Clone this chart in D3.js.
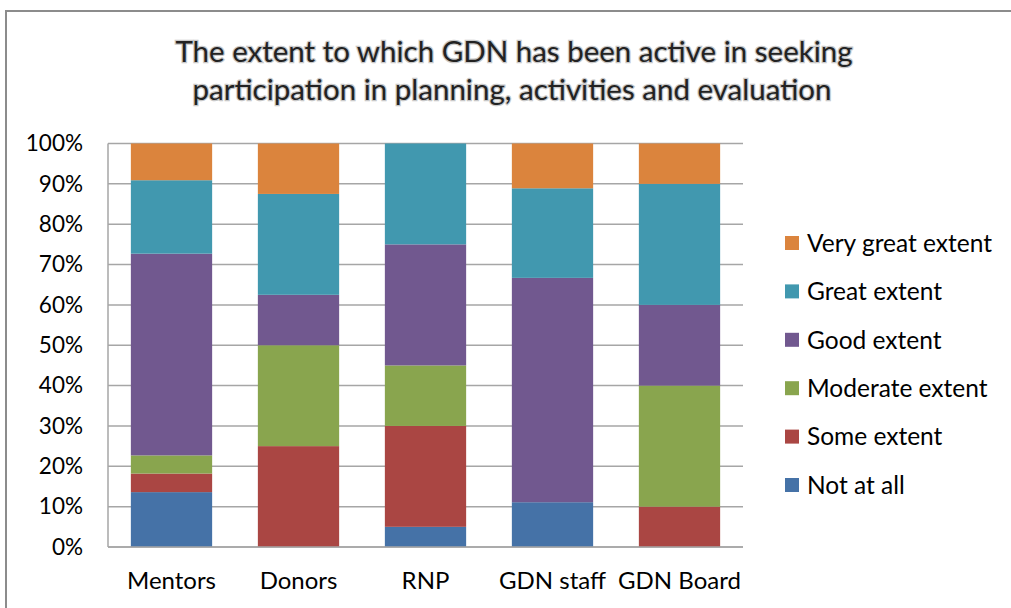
<!DOCTYPE html>
<html>
<head>
<meta charset="utf-8">
<script src="https://cdn.jsdelivr.net/npm/d3@7"></script>
<style>
  body { margin: 0; background: #fff; }
  text { font-family: Lato, "Open Sans", sans-serif; fill: #000; }
</style>
</head>
<body>
<div id="chart"></div>
<script>
/* data */
var groups = ["Mentors", "Donors", "RNP", "GDN staff", "GDN Board"];
var levels = ["Not at all", "Some extent", "Moderate extent", "Good extent", "Great extent", "Very great extent"];
var notAtAll  = [13.6, 0,    5,  11.1, 0];
var some      = [4.6,  25,   25, 0,    10];
var moderate  = [4.5,  25,   15, 0,    30];
var good      = [50,   12.5, 30, 55.6, 20];
var great     = [18.2, 25,   25, 22.2, 30];
var veryGreat = [9.1,  12.5, 0,  11.1, 10];
var yTicks = [0, 10, 20, 30, 40, 50, 60, 70, 80, 90, 100];
var colors = ["#4572A7", "#AA4643", "#89A54E", "#71588F", "#4198AF", "#DB843D"];

var width = 1011, height = 608;
var svg = d3.select("#chart").append("svg").attr("width", width).attr("height", height);

// outer chart border (cropped on right/bottom)
svg.append("rect").attr("x", 6).attr("y", 11).attr("width", width + 10).attr("height", height + 10)
  .attr("fill", "none").attr("stroke", "#8c8c8c").attr("stroke-width", 2);

// title
var title = svg.append("text").attr("x", 514).attr("text-anchor", "middle")
  .style("font-size", "29.5px").style("fill", "#222")
  .attr("stroke", "#c8c8c8").attr("stroke-width", 2.5).attr("paint-order", "stroke");
title.append("tspan").attr("x", 514).attr("y", 62).text("The extent to which GDN has been active in seeking");
title.append("tspan").attr("x", 512).attr("y", 100).text("participation in planning, activities and evaluation");

var plot = {left: 108, right: 743, top: 143.5, bottom: 547};

var x = d3.scaleBand().domain(groups).range([plot.left, plot.right]).paddingInner(0.36).paddingOuter(0.18);
var y = d3.scaleLinear().domain([0, 100]).range([plot.bottom, plot.top]);

// gridlines
svg.append("g").selectAll("line").data(yTicks).enter().append("line")
  .attr("x1", plot.left).attr("x2", plot.right)
  .attr("y1", function(d) { return y(d); }).attr("y2", function(d) { return y(d); })
  .attr("stroke", "#a6a6a6").attr("stroke-width", 1.5);

// axis line
svg.append("line").attr("x1", plot.left).attr("x2", plot.left).attr("y1", plot.top).attr("y2", plot.bottom)
  .attr("stroke", "#a6a6a6").attr("stroke-width", 1.5);

// y labels
var yAxis = d3.axisLeft(y).tickValues(yTicks).tickFormat(function(d) { return d + "%"; }).tickSize(0).tickPadding(25);
var yg = svg.append("g").attr("transform", "translate(" + plot.left + ",0)").call(yAxis);
yg.select(".domain").remove();
yg.selectAll("text").style("font-size", "22.5px").style("font-family", "Lato, sans-serif").attr("fill", "#000");

// stacked bars
var table = groups.map(function(g, i) {
  return {group: g, "Not at all": notAtAll[i], "Some extent": some[i], "Moderate extent": moderate[i],
          "Good extent": good[i], "Great extent": great[i], "Very great extent": veryGreat[i]};
});
var series = d3.stack().keys(levels)(table);

svg.append("g").selectAll("g").data(series).enter().append("g")
  .attr("fill", function(d, i) { return colors[i]; })
  .selectAll("rect").data(function(d) { return d; }).enter().append("rect")
  .attr("x", function(d) { return x(d.data.group); })
  .attr("width", x.bandwidth())
  .attr("y", function(d) { return y(d[1]); })
  .attr("height", function(d) { return y(d[0]) - y(d[1]); });

// bottom axis line
svg.append("line").attr("x1", plot.left).attr("x2", plot.right).attr("y1", plot.bottom).attr("y2", plot.bottom)
  .attr("stroke", "#a6a6a6").attr("stroke-width", 1.5);

// x labels
var xAxis = d3.axisBottom(x).tickSize(0).tickPadding(25);
var xg = svg.append("g").attr("transform", "translate(0," + plot.bottom + ")").call(xAxis);
xg.select(".domain").remove();
xg.selectAll("text").style("font-size", "24px").style("font-family", "Lato, sans-serif").attr("fill", "#000");

// legend
var legend = svg.append("g").selectAll("g").data(levels.slice().reverse()).enter().append("g")
  .attr("transform", function(d, i) { return "translate(785," + (243 + i * 48.4) + ")"; });
legend.append("rect").attr("x", 0).attr("y", -7).attr("width", 14).attr("height", 14)
  .attr("fill", function(d, i) { return colors[5 - i]; });
legend.append("text").attr("x", 22).attr("dy", "0.36em").style("font-size", "24.5px").text(function(d) { return d; });
</script>
</body>
</html>
